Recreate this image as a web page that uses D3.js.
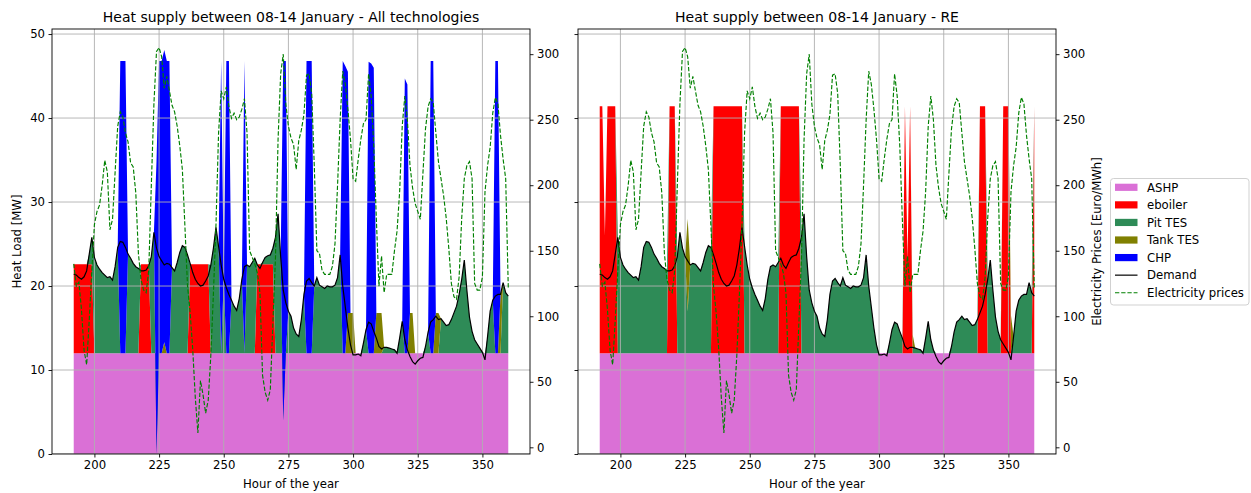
<!DOCTYPE html>
<html><head><meta charset="utf-8">
<script src="https://cdn.jsdelivr.net/npm/d3@7"></script>
<style>body{margin:0;background:#fff;} svg{display:block;font-family:"DejaVu Sans",sans-serif;}</style>
</head><body><svg id="c" width="1251" height="493"></svg>
<script>
// ---------------- DATA ----------------
const hours = d3.range(192, 361); // hour of the year 192..360
const xTicks = [200, 225, 250, 275, 300, 325, 350];
const heatTicks = [0, 10, 20, 30, 40, 50];
const priceTicks = [0, 50, 100, 150, 200, 250, 300];
const seriesNames = ["ASHP", "eboiler", "Pit TES", "Tank TES", "CHP"];

const demand = [
21.4,21.3,21.0,20.8,21.1,21.8,23.8,25.8,23.4,22.5,22.0,21.6,
21.3,21.0,21.1,20.7,22.3,24.6,25.3,25.2,24.6,23.8,23.3,22.7,
22.3,22.1,21.8,21.8,21.9,22.4,23.5,26.4,24.5,23.5,23.0,22.5,
22.7,22.6,22.2,21.8,22.8,24.0,24.8,24.6,23.7,22.7,21.6,20.8,
20.3,20.0,20.1,20.6,21.2,22.5,24.5,27.0,24.7,22.5,20.8,19.8,
19.0,18.3,17.6,17.1,18.5,20.8,22.3,22.5,22.3,22.8,23.3,22.5,
22.1,22.8,23.4,23.6,23.7,24.5,25.8,28.6,23.5,19.5,18.0,17.0,
16.4,15.0,14.3,14.0,16.0,19.0,20.6,20.9,20.4,20.0,21.0,20.1,
19.9,19.7,20.0,19.9,19.9,20.1,21.0,23.7,20.0,17.5,15.0,13.0,
11.8,11.8,11.9,11.7,13.2,14.8,15.7,15.5,14.6,13.8,12.8,12.5,
12.7,12.7,12.6,12.5,12.4,12.0,13.8,15.8,13.6,12.4,11.6,11.0,
10.7,11.1,11.4,11.5,12.8,14.5,15.7,16.0,16.4,16.0,16.1,15.7,
15.3,15.4,16.0,16.8,17.6,19.0,20.8,23.1,19.5,16.3,14.6,13.6,
13.1,12.6,12.1,11.2,14.0,17.0,18.3,18.8,19.0,19.0,20.4,19.2,
18.8];

const price = [
140,123,126,105,74,63,97,135,170,180,185,200,
219,210,166,174,210,245,256,252,240,233,217,214,
194,148,128,120,118,135,200,262,302,305,298,274,
283,272,261,256,245,230,212,168,123,103,75,38,
11,51,40,26,36,70,117,170,240,272,266,275,
260,251,255,250,252,258,266,240,150,145,140,133,
118,55,42,36,44,95,145,235,285,300,262,245,
236,231,212,234,242,254,284,285,270,215,150,148,
135,132,132,132,138,155,200,250,287,277,258,235,
205,203,220,235,247,250,285,268,230,174,123,146,
118,132,132,132,150,165,195,245,268,250,215,198,
186,180,174,209,243,260,266,263,240,218,205,192,
175,152,125,115,113,130,175,205,215,218,205,125,
120,120,130,195,215,229,255,267,262,238,220,205,
122];

const ashp = [
12,12,12,12,12,12,12,12,12,12,12,12,
12,12,12,12,12,12,12,12,12,12,12,12,
12,12,12,12,12,12,12,12,12,12,12,12,
12,12,12,12,12,12,12,12,12,12,12,12,
12,12,12,12,12,12,12,12,12,12,12,12,
12,12,12,12,12,12,12,12,12,12,12,12,
12,12,12,12,12,12,12,12,12,12,12,12,
12,12,12,12,12,12,12,12,12,12,12,12,
12,12,12,12,12,12,12,12,12,12,12,12,
12,12,12,12,12,12,12,12,12,12,12,12,
12,12,12,12,12,12,12,12,12,12,12,12,
12,12,12,12,12,12,12,12,12,12,12,12,
12,12,12,12,12,12,12,12,12,12,12,12,
12,12,12,12,12,12,12,12,12,12,12,12,
12];

// ---- All technologies ----
const allEboiler = [
10.6,10.6,10.6,10.6,10.6,10.6,10.6,10.6,0,0,0,0,
0,0,0,0,0,0,0,0,0,0,0,0,
0,0,10.6,10.6,10.6,10.6,0,0,0,0,0,0,
0,0,0,0,0,0,0,0,0,10.6,10.6,10.6,
10.6,10.6,10.6,10.6,10.6,0,0,0,0,0,0,0,
0,0,0,0,0,0,0,0,0,0,0,10.6,
10.6,10.6,10.6,10.6,10.6,10.6,0,0,0,0,0,0,
0,0,0,0,0,0,0,0,0,0,0,0,
0,0,0,0,0,0,0,0,0,0,0,0,
0,0,0,0,0,0,0,0,0,0,0,0,
0,0,0,0,0,0,0,0,0,0,0,0,
0,0,0,0,0,0,0,0,0,0,0,0,
0,0,0,0,0,0,0,0,0,0,0,0,
0,0,0,0,0,0,0,0,0,0,0,0,
0];
const allPitTES = [
0,0,0,0,0,0,1.2,3.2,11.4,10.5,10.0,9.6,
9.3,9.0,9.1,8.7,10.3,12.6,0,0,0,11.8,11.3,10.7,
10.3,10.1,0,0,0,0,11.5,14.4,-12,0,0,0,
0,0,10.2,9.8,10.8,12.0,12.8,12.6,11.7,0,0,0,
0,0,0,0,0,10.5,12.5,15.0,12.7,0,8.8,0,
0,6.3,5.6,5.1,6.5,8.8,0,10.5,10.3,10.8,11.3,0,
0,0.2,0.8,1.0,1.1,1.9,13.8,16.6,11.5,-8,0,5.0,
4.4,3.0,2.3,2.0,4.0,7.0,0,0,0,8.0,9.0,8.1,
7.9,7.7,8.0,7.9,7.9,8.1,9.0,11.7,0,0,0,0,
0,0,0,0,1.2,2.8,0,0,0,0,0,0,
0.7,0.7,0.6,0.5,0.4,0,1.8,3.8,0,0,0,0,
0,0,0,0,0.8,2.5,0,0,0,0,4.1,3.7,
3.3,3.4,4.0,4.8,5.6,7.0,8.8,11.1,7.5,4.3,2.6,1.6,
1.1,0.6,0.1,0,2.0,5.0,6.3,0,0,0,8.4,7.2,
6.8];
const allTankTES = [
0,0,0,0,0,0,0,0,0,0,0,0,
0,0,0,0,0,0,0,0,0,0,0,0,
0,0,0,0,0,0,0,0,0,0,0,1.3,
0,0,0,0,0,0,0,0,0,0,0,0,
0,0,0,0,0,0,0,0,0,0,0,0,
0,0,0,0,0,0,0,0,0,0,0,0,
0,0,0,0,0,0,0,0,0,0,0,0,
0,0,0,0,0,0,0,0,0,0,0,0,
0,0,0,0,0,0,0,0,0,0,4.8,4.8,
4.8,0,0,0,0,0,0,0,0,4.8,4.8,4.8,
0,0,0,0,0,0,0,0,0,0,4.8,4.8,
0,0,0,0,0,0,0,0,4.8,4.8,0,0,
0,0,0,0,0,0,0,0,0,0,0,0,
0,0,0,0,0,0,0,0,0,7.0,0,0,
0];
const allCHP = [
0,0,0,0,0,0,0,0,0,0,0,0,
0,0,0,0,0,0,34.8,34.8,34.8,0,0,0,
0,0,0,0,0,0,0,0,34.8,34.8,34.8,34.8,
34.8,34.8,0,0,0,0,0,0,0,0,0,0,
0,0,0,0,0,0,0,0,0,34.8,0,34.8,
34.8,0,0,0,0,0,34.8,0,0,0,0,0,
0,0,0,0,0,0,0,0,0,42.8,34.8,0,
0,0,0,0,0,0,34.8,34.8,34.8,0,0,0,
0,0,0,0,0,0,0,0,34.8,34.2,28.7,0,
0,0,0,0,0,0,34.7,34.5,34.0,0,0,0,
0,0,0,0,0,0,0,0,32.7,32.0,0,0,
0,0,0,0,0,0,34.8,34.8,0,0,0,0,
0,0,0,0,0,0,0,0,0,0,0,0,
0,0,0,0,0,0,0,34.8,34.8,0,0,0,
0];

// ---- RE ----
const reEboiler = [
29.4,29.4,14,29.4,29.4,29.4,29.4,0,0,0,0,0,
0,0,0,0,0,0,0,0,0,0,0,0,
0,0,0,29.4,29.4,29.4,0,0,0,0,0,0,
0,0,0,0,0,0,0,0,29.4,29.4,29.4,29.4,
29.4,29.4,29.4,29.4,29.4,29.4,29.4,29.4,0,0,0,0,
0,0,0,0,0,0,0,0,0,0,29.4,29.4,
29.4,29.4,29.4,29.4,29.4,29.4,0,0,0,0,0,0,
0,0,0,0,0,0,0,0,0,0,0,0,
0,0,0,0,0,0,0,0,0,0,0,0,
0,0,0,0,0,0,0,0,0,0,29.4,11,
29.4,0,0,0,0,0,0,0,0,0,0,0,
0,0,0,0,0,0,0,0,0,0,0,0,
0,0,0,29.4,29.4,29.4,0,0,0,0,0,0,
29.4,29.4,29.4,0,0,0,0,0,0,0,0,0,
29.4];
const rePitTES = [
0,0,0,0,0,0,0,13.8,11.4,10.5,10.0,9.6,
9.3,9.0,9.1,8.7,10.3,12.6,13.3,13.2,12.6,11.8,11.3,10.7,
10.3,10.1,9.8,0,0,0,11.5,14.4,12.5,11.5,5.0,10.5,
10.7,10.6,10.2,9.8,10.8,12.0,12.8,12.6,0,0,0,0,
0,0,0,0,0,0,0,0,12.7,10.5,8.8,7.8,
7.0,6.3,5.6,5.1,6.5,8.8,10.3,10.5,10.3,10.8,0,0,
0,0,0,0,0,0,13.8,16.6,11.5,7.5,6.0,5.0,
4.4,3.0,2.3,2.0,4.0,7.0,8.6,8.9,8.4,8.0,9.0,8.1,
7.9,7.7,8.0,7.9,7.9,8.1,9.0,11.7,8.0,5.5,3.0,1.0,
0,0,0,0,1.2,2.8,3.7,3.5,2.6,1.8,0,0,
0,0.7,0.6,0.5,0.4,0,1.8,3.8,1.6,0.4,0,0,
0,0,0,0,0.8,2.5,3.7,4.0,4.4,4.0,4.1,3.7,
3.3,3.4,4.0,0,0,0,8.8,11.1,7.5,4.3,2.6,1.6,
0,0,0,0,2.0,5.0,6.3,6.8,7.0,7.0,8.4,7.2,
0];
const reTankTES = [
0,0,0,0,0,0,0,0,0,0,0,0,
0,0,0,0,0,0,0,0,0,0,0,0,
0,0,0,0,0,0,0,0,0,0,11,0,
0,0,0,0,0,0,0,0,0,0,0,0,
0,0,0,0,0,0,0,0,0,0,0,0,
0,0,0,0,0,0,0,0,0,0,0,0,
0,0,0,0,0,0,0,0,0,0,0,0,
0,0,0,0,0,0,0,0,0,0,0,0,
0,0,0,0,0,0,0,0,0,0,0,0,
0,0,0,0,0,0,0,0,0,0,0,0,
0,1.5,0,0,0,0,0,0,0,0,0,0,
0,0,0,0,0,0,0,0,0,0,0,0,
0,0,0,0,0,0,0,0,0,0,0,0,
0,0,0,4.5,0,0,0,0,0,0,0,0,
0];
const reCHP = [
0,0,0,0,0,0,0,0,0,0,0,0,
0,0,0,0,0,0,0,0,0,0,0,0,
0,0,0,0,0,0,0,0,0,0,0,0,
0,0,0,0,0,0,0,0,0,0,0,0,
0,0,0,0,0,0,0,0,0,0,0,0,
0,0,0,0,0,0,0,0,0,0,0,0,
0,0,0,0,0,0,0,0,0,0,0,0,
0,0,0,0,0,0,0,0,0,0,0,0,
0,0,0,0,0,0,0,0,0,0,0,0,
0,0,0,0,0,0,0,0,0,0,0,0,
0,0,0,0,0,0,0,0,0,0,0,0,
0,0,0,0,0,0,0,0,0,0,0,0,
0,0,0,0,0,0,0,0,0,0,0,0,
0,0,0,0,0,0,0,0,0,0,0,0,
0];

// ---------------- DRAW ----------------
const colors = {"ASHP":"#DA70D6","eboiler":"#FF0000","Pit TES":"#2E8B57","Tank TES":"#808000","CHP":"#0000FF"};
const svg = d3.select("#c");
const FS = 11.7;

function panel(id, ax, cols, title, opts) {
  const g = svg.append("g");
  const x = d3.scaleLinear().domain([183.6, 368.4]).range([ax.x, ax.x + ax.w]);
  const y = d3.scaleLinear().domain([0, 50.6]).range([ax.y + ax.h, ax.y]);
  const yP = d3.scaleLinear().domain([-5.1, 319.2]).range([ax.y + ax.h, ax.y]);

  const rows = hours.map((h, i) => {
    const r = {hour: h};
    seriesNames.forEach((k, j) => r[k] = cols[j][i]);
    return r;
  });
  const stacked = d3.stack().keys(seriesNames).offset(d3.stackOffsetNone)(rows);

  g.append("clipPath").attr("id", "clip" + id).append("rect")
    .attr("x", ax.x).attr("y", ax.y).attr("width", ax.w).attr("height", ax.h);
  const plot = g.append("g").attr("clip-path", `url(#clip${id})`);

  const area = d3.area().x(d => x(d.data.hour)).y0(d => y(d[0])).y1(d => y(d[1]));
  plot.selectAll("path.layer").data(stacked).join("path")
    .attr("class", "layer").attr("fill", d => colors[d.key]).attr("d", area);

  // grid
  plot.selectAll("line.vg").data(xTicks).join("line")
    .attr("x1", d => x(d)).attr("x2", d => x(d)).attr("y1", ax.y).attr("y2", ax.y + ax.h)
    .attr("stroke", "#b0b0b0").attr("stroke-width", 0.9);
  plot.selectAll("line.hg").data(heatTicks).join("line")
    .attr("y1", d => y(d)).attr("y2", d => y(d)).attr("x1", ax.x).attr("x2", ax.x + ax.w)
    .attr("stroke", "#b0b0b0").attr("stroke-width", 0.9);

  // demand
  plot.append("path").datum(demand)
    .attr("fill", "none").attr("stroke", "#000").attr("stroke-width", 1.2)
    .attr("d", d3.line().x((d, i) => x(hours[i])).y(d => y(d)));
  // price (twin axis)
  plot.append("path").datum(price)
    .attr("fill", "none").attr("stroke", "#008000").attr("stroke-width", 1.15)
    .attr("stroke-dasharray", "4.3,1.9")
    .attr("d", d3.line().x((d, i) => x(hours[i])).y(d => yP(d)));

  // axes
  const styleAxis = sel => {
    sel.select(".domain").remove();
    sel.selectAll(".tick line").attr("stroke", "#000").attr("stroke-width", 0.9);
    sel.selectAll(".tick text").attr("fill", "#000").style("font-size", FS + "px")
      .style("font-family", '"DejaVu Sans", sans-serif');
  };
  g.append("g").attr("transform", `translate(0,${ax.y + ax.h})`)
    .call(d3.axisBottom(x).tickValues(xTicks).tickSize(3.5).tickPadding(3.5).tickSizeOuter(0))
    .call(styleAxis);
  g.append("g").attr("transform", `translate(${ax.x},0)`)
    .call(d3.axisLeft(y).tickValues(heatTicks).tickSize(3.5).tickPadding(3.5).tickSizeOuter(0)
      .tickFormat(opts.leftLabels ? d3.format("d") : () => ""))
    .call(styleAxis);
  g.append("g").attr("transform", `translate(${ax.x + ax.w},0)`)
    .call(d3.axisRight(yP).tickValues(priceTicks).tickSize(3.5).tickPadding(3.5).tickSizeOuter(0))
    .call(styleAxis);

  // spines
  g.append("rect").attr("x", ax.x).attr("y", ax.y).attr("width", ax.w).attr("height", ax.h)
    .attr("fill", "none").attr("stroke", "#000").attr("stroke-width", 0.9);

  // texts
  g.append("text").attr("x", ax.x + ax.w / 2).attr("y", 22).attr("text-anchor", "middle")
    .style("font-size", "14px").text(title);
  g.append("text").attr("x", ax.x + ax.w / 2).attr("y", 488).attr("text-anchor", "middle")
    .style("font-size", FS + "px").text("Hour of the year");
  if (opts.leftTitle) {
    g.append("text").attr("transform", `translate(17,${ax.y + ax.h / 2}) rotate(-90)`)
      .attr("text-anchor", "middle").attr("dy", "0.35em").style("font-size", FS + "px").text(opts.leftTitle);
  }
  if (opts.rightTitle) {
    g.append("text").attr("transform", `translate(1097,${ax.y + ax.h / 2}) rotate(-90)`)
      .attr("text-anchor", "middle").attr("dy", "0.35em").style("font-size", FS + "px").text(opts.rightTitle);
  }
}

panel("L", {x: 52, y: 29, w: 478, h: 425}, [ashp, allEboiler, allPitTES, allTankTES, allCHP],
  "Heat supply between 08-14 January - All technologies", {leftLabels: true, leftTitle: "Heat Load [MW]"});
panel("R", {x: 578, y: 29, w: 478, h: 425}, [ashp, reEboiler, rePitTES, reTankTES, reCHP],
  "Heat supply between 08-14 January - RE", {leftLabels: false, rightTitle: "Electricity Prices [Euro/MWh]"});

// legend
const legItems = seriesNames.map(k => ({label: k, type: "patch", color: colors[k]}))
  .concat([{label: "Demand", type: "line", color: "#000"}, {label: "Electricity prices", type: "dash", color: "#008000"}]);
const lg = svg.append("g");
lg.append("rect").attr("x", 1110.5).attr("y", 178.5).attr("width", 138.5).attr("height", 126.5)
  .attr("rx", 3).attr("fill", "#fff").attr("fill-opacity", 0.8).attr("stroke", "#cccccc").attr("stroke-width", 0.9);
legItems.forEach((it, i) => {
  const cy = 187.3 + i * 17.57;
  if (it.type === "patch") {
    lg.append("rect").attr("x", 1115).attr("y", cy - 3.6).attr("width", 22.5).attr("height", 7.2).attr("fill", it.color);
  } else {
    lg.append("line").attr("x1", 1115).attr("x2", 1137.5).attr("y1", cy).attr("y2", cy)
      .attr("stroke", it.color).attr("stroke-width", it.type === "line" ? 1.2 : 1.15)
      .attr("stroke-dasharray", it.type === "dash" ? "4.3,1.9" : null);
  }
  lg.append("text").attr("x", 1147).attr("y", cy).attr("dy", "0.36em").style("font-size", FS + "px").text(it.label);
});
</script>
</body></html>
